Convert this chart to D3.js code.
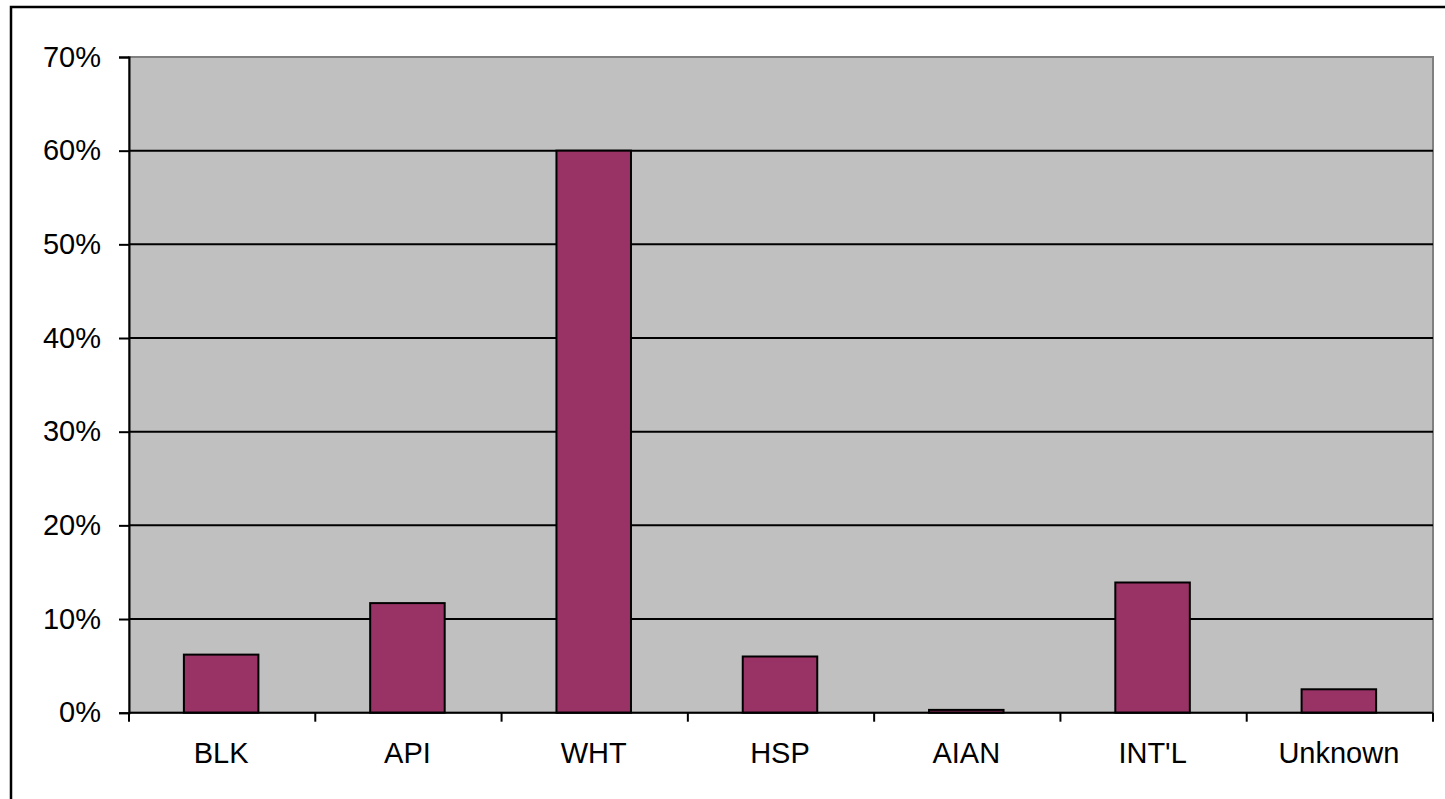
<!DOCTYPE html>
<html>
<head>
<meta charset="utf-8">
<script src="https://cdn.jsdelivr.net/npm/d3@7"></script>
<style>
  html, body { margin: 0; padding: 0; background: #fff; }
  svg { display: block; }
  text { font-family: "Liberation Sans", Arial, sans-serif; fill: #000; }
</style>
</head>
<body>
<svg id="chart" width="1445" height="799"></svg>
<script>
// Share of enrollment by group
const categories = ["BLK", "API", "WHT", "HSP", "AIAN", "INT'L", "Unknown"];
const shares = [0.062, 0.117, 0.600, 0.060, 0.003, 0.139, 0.025];
const yTicks = [0, 0.1, 0.2, 0.3, 0.4, 0.5, 0.6, 0.7];

const svg = d3.select("#chart");
const plot = { left: 129, right: 1433, top: 57, bottom: 712.7 };
const fontSize = 29;

// Outer chart frame (runs off the right and bottom edges)
svg.append("rect")
  .attr("x", 11).attr("y", 7)
  .attr("width", 1460).attr("height", 820)
  .attr("fill", "#fff").attr("stroke", "#000").attr("stroke-width", 2.5);

const x = d3.scaleBand().domain(categories).range([plot.left, plot.right]).padding(0);
const y = d3.scaleLinear().domain([0, 0.7]).range([plot.bottom, plot.top]);

// Plot area background with grey border
svg.append("rect")
  .attr("x", plot.left).attr("y", plot.top)
  .attr("width", plot.right - plot.left).attr("height", plot.bottom - plot.top)
  .attr("fill", "#c0c0c0").attr("stroke", "#808080").attr("stroke-width", 2);

// Horizontal gridlines
svg.append("g").selectAll("line")
  .data(yTicks.filter(d => d > 0 && d < 0.7))
  .join("line")
  .attr("x1", plot.left).attr("x2", plot.right)
  .attr("y1", d => y(d)).attr("y2", d => y(d))
  .attr("stroke", "#000").attr("stroke-width", 2);

// Bars
const barFrac = 0.4;
svg.append("g").selectAll("rect")
  .data(categories.map((c, i) => ({ c, v: shares[i] })))
  .join("rect")
  .attr("x", d => x(d.c) + x.bandwidth() * (1 - barFrac) / 2 - 1)
  .attr("width", x.bandwidth() * barFrac)
  .attr("y", d => y(d.v))
  .attr("height", d => y(0) - y(d.v))
  .attr("fill", "#993366")
  .attr("stroke", "#000").attr("stroke-width", 2);

// Y axis
const yAxis = svg.append("g")
  .attr("transform", `translate(${plot.left},0)`)
  .call(d3.axisLeft(y).tickValues(yTicks).tickFormat(d3.format(".0%")).tickSize(10).tickPadding(18));
yAxis.select(".domain").attr("stroke", "#000").attr("stroke-width", 2);
yAxis.selectAll(".tick line").attr("stroke", "#000").attr("stroke-width", 2);
yAxis.selectAll(".tick text").attr("font-size", fontSize).attr("fill", "#000")
  .attr("font-family", "'Liberation Sans', Arial, sans-serif");

// X axis: ticks at category boundaries
const xAxisG = svg.append("g").attr("transform", `translate(0,${plot.bottom})`);
xAxisG.append("line")
  .attr("x1", plot.left).attr("x2", plot.right)
  .attr("stroke", "#000").attr("stroke-width", 2);
const boundaries = categories.map(c => x(c)).concat([plot.right]);
xAxisG.selectAll("line.tick")
  .data(boundaries)
  .join("line").attr("class", "tick")
  .attr("x1", d => d).attr("x2", d => d)
  .attr("y1", 0).attr("y2", 9)
  .attr("stroke", "#000").attr("stroke-width", 2);
xAxisG.selectAll("text")
  .data(categories)
  .join("text")
  .attr("x", d => x(d) + x.bandwidth() / 2 - 1)
  .attr("y", 50)
  .attr("text-anchor", "middle")
  .attr("font-size", fontSize)
  .text(d => d);
</script>
</body>
</html>
